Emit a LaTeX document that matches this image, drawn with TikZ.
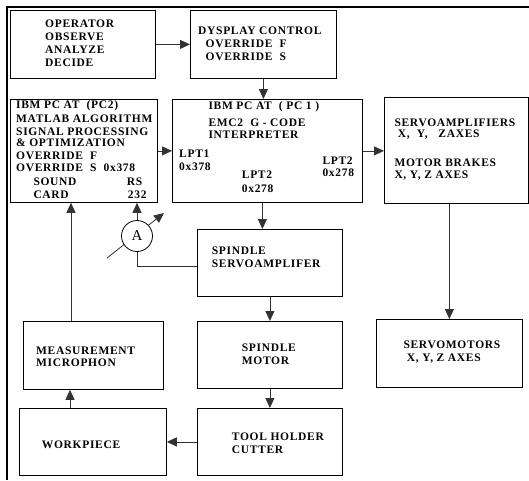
\documentclass[tikz,border=0pt]{standalone}
\usepackage{fontspec}
\setmainfont{Liberation Serif}[LetterSpace=6]
\usetikzlibrary{arrows.meta}
\tikzset{
  box/.style={draw, line width=0.8pt, inner sep=0pt, anchor=north west},
  txt/.style={anchor=base west, inner sep=0pt, font=\fontsize{11.5}{13}\selectfont\bfseries},
  conn/.style={line width=0.8pt, draw=black!80},
  arr/.style={conn, -{Triangle[length=10pt,width=9pt]}},
}
\begin{document}
\begin{tikzpicture}[x=1pt,y=-1pt]
\useasboundingbox (0,0) rectangle (529,480);
% frame
\draw[line width=2pt] (7,480) -- (7,7) -- (529,7);
% boxes
\node[box, minimum width=145pt, minimum height=68pt] (op) at (10,10) {};
\node[box, minimum width=146pt, minimum height=68pt] (dysp) at (190,10) {};
\node[box, minimum width=147pt, minimum height=103pt] (pc2) at (10,99) {};
\node[box, minimum width=190pt, minimum height=103pt] (pc1) at (172,99) {};
\node[box, minimum width=144pt, minimum height=106pt] (servo) at (384,97) {};
\node[box, minimum width=146pt, minimum height=68pt] (servom) at (376,319) {};
\node[box, minimum width=145pt, minimum height=67pt] (ss) at (197,229) {};
\node[box, minimum width=145pt, minimum height=67pt] (motor) at (197,321) {};
\node[box, minimum width=145pt, minimum height=67pt] (tool) at (197,408) {};
\node[box, minimum width=147pt, minimum height=67pt] (wp) at (19,408) {};
\node[box, minimum width=140pt, minimum height=68pt] (meas) at (23,321) {};
% texts
\node[txt] (t1) at (45,27.5) {OPERATOR};
\node[txt] (t2) at (45,40) {OBSERVE};
\node[txt] (t3) at (45,53) {ANALYZE};
\node[txt] (t4) at (45,66) {DECIDE};
\node[txt] (t5) at (198,34.3) {DYSPLAY CONTROL};
\node[txt] (t6) at (205.5,47.3) {OVERRIDE\ \ F};
\node[txt] (t7) at (205.5,60.7) {OVERRIDE\ \ S};
\node[txt] (t8) at (16,108.5) {IBM PC AT\ \ (PC2)};
\node[txt] (t9) at (16,122.3) {MATLAB ALGORITHM};
\node[txt] (t10) at (16,135) {SIGNAL PROCESSING};
\node[txt] (t11) at (16,146.7) {\& OPTIMIZATION};
\node[txt] (t12) at (16,159) {OVERRIDE\ \ F};
\node[txt] (t13) at (16,171) {OVERRIDE\ \ S\ \ 0x378};
\node[txt] (t14) at (33.3,185) {SOUND};
\node[txt] (t15) at (126.7,185) {RS};
\node[txt] (t16) at (33.3,198.3) {CARD};
\node[txt] (t17) at (127.7,198.3) {232};
\node[txt] (t18) at (208.3,109.5) {IBM PC AT\ \ ( PC 1 )};
\node[txt] (t19) at (208.3,126) {EMC2\ \ G - CODE};
\node[txt] (t20) at (208.3,138) {INTERPRETER};
\node[txt] (t21) at (179,157.7) {LPT1};
\node[txt] (t22) at (179,170) {0x378};
\node[txt] (t23) at (241.7,178.7) {LPT2};
\node[txt] (t24) at (241.7,192) {0x278};
\node[txt] (t25) at (322.3,164) {LPT2};
\node[txt] (t26) at (322.3,176.7) {0x278};
\node[txt] (t27) at (394.3,126) {SERVOAMPLIFIERS};
\node[txt] (t28) at (397.7,137.7) {X,\ \ Y,\ \ \ ZAXES};
\node[txt] (t29) at (394.3,166) {MOTOR BRAKES};
\node[txt] (t30) at (394.3,178.3) {X, Y, Z AXES};
\node[txt] (t31) at (211.7,254) {SPINDLE};
\node[txt] (t32) at (211.7,267.3) {SERVOAMPLIFER};
\node[txt] (t33) at (241.7,351) {SPINDLE};
\node[txt] (t34) at (241.7,364) {MOTOR};
\node[txt] (t35) at (231.7,440) {TOOL HOLDER};
\node[txt] (t36) at (231.7,453.3) {CUTTER};
\node[txt] (t37) at (36,354.3) {MEASUREMENT};
\node[txt] (t38) at (36,366.7) {MICROPHON};
\node[txt] (t39) at (41.7,448) {WORKPIECE};
\node[txt] (t40) at (403.3,348.3) {SERVOMOTORS};
\node[txt] (t41) at (406.7,361.7) {X, Y, Z AXES};
% ammeter
\coordinate (d1) at (107,258);
\coordinate (d2) at (164,213);
\draw[arr] (d1) -- (d2);
\node[draw, line width=0.8pt, fill=white, circle, minimum size=31pt, inner sep=0pt,
  font=\fontsize{15}{15}\selectfont] (amp) at (137,236) {A};
% connectors
\coordinate (c1) at (70,0);
\draw[arr] (op.east) -- (dysp.west);
\draw[arr] (dysp.south) -- (dysp.south |- pc1.north);
\draw[arr] (pc2.east) -- (pc2.east -| pc1.west);
\draw[arr] (pc1.east) -- (pc1.east -| servo.west);
\draw[arr] (servom.north |- servo.south) -- (servom.north);
\draw[arr] ([xshift=-5pt]pc1.south) -- ([xshift=-5pt]pc1.south |- ss.north);
\draw[arr] (ss.south) -- (motor.north);
\draw[arr] (motor.south) -- (tool.north);
\draw[arr] (tool.west) -- (tool.west -| wp.east);
\draw[arr] (c1 |- wp.north) -- (c1 |- meas.south);
\draw[arr] ([xshift=1pt]c1 |- meas.north) -- ([xshift=1pt]c1 |- pc2.south);
\draw[arr] (amp.north) -- (amp.north |- pc2.south);
\draw[conn] (amp.south) |- ([yshift=-3.5pt]ss.west);
\end{tikzpicture}
\end{document}
